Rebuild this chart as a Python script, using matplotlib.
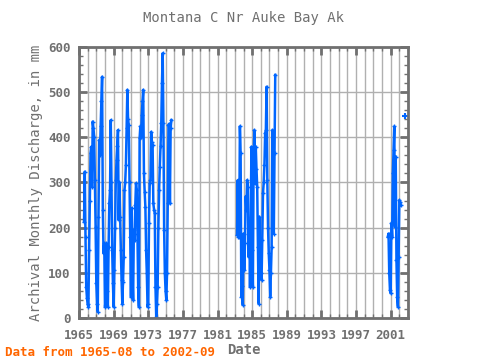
import numpy as np
import matplotlib
matplotlib.use("Agg")
import matplotlib.pyplot as plt
from matplotlib.ticker import MultipleLocator, FixedLocator

# monthly discharge (mm)
seg1_start = (1965, 8)
seg1 = [213, 324, 180, 69, 45,
        30, 25, 150, 260, 365, 379, 290, 435, 420, 401, 305, 202,
        77, 32, 14, 224, 394, 360, 424, 480, 534, 239, 143, 165,
        25, 40, 165, 60, 25, 158, 254, 283, 438, 300, 150, 77,
        25, 106, 200, 305, 350, 380, 416, 217, 300, 224, 150, 84,
        32, 80, 136, 283, 300, 339, 420, 505, 440, 427, 300, 180,
        47, 243, 99, 40, 195, 173, 250, 298, 283, 187, 69, 25,
        398, 424, 401, 450, 480, 505, 320, 280, 246, 150, 99, 25,
        32, 210, 298, 305, 412, 390, 383, 254, 240, 232, 69, 3,
        30, 69, 200, 283, 335, 380, 431, 520, 586, 431, 195, 99,
        60, 40, 99, 254, 427, 430, 254, 420, 438]

seg2_start = (1983, 4)
seg2 = [184, 305, 180, 180, 424, 365, 47, 70, 29,
        187, 106, 165, 269, 240, 305, 290, 136, 210, 69, 224, 379,
        150, 69, 350, 416, 298, 379, 330, 290, 158, 32, 224, 143,
        100, 84, 173, 276, 300, 339, 409, 416, 512, 305, 200, 143,
        106, 47, 100, 158, 416, 365, 187, 365, 538]

seg3_start = (2000, 9)
seg3 = [180, 187, 99, 62, 55, 210, 180, 320, 372, 424, 202, 357,
        128, 47, 25, 136, 261, 257, 250]

last_point = (2002, 9)
last_value = 447

year_ticks = list(range(1965, 2003, 4))


def dec_years(start, n):
    y, m = start
    return y + (m - 1 + np.arange(n)) / 12.0


grey = "#707070"
blue = "#0066ff"
mono = "DejaVu Sans Mono"

fig = plt.figure(figsize=(4.8, 3.6), dpi=100)
ax = fig.add_axes([0.1646, 0.1167, 0.6854, 0.7528])

for start, vals in [(seg1_start, seg1), (seg2_start, seg2), (seg3_start, seg3)]:
    ax.plot(dec_years(start, len(vals)), vals, color=blue, lw=1.8,
            marker="+", ms=2.5, mew=1)
ax.plot(dec_years(last_point, 1), [last_value], color=blue, lw=0,
        marker="+", ms=4, mew=1.5)

ax.set_xlim(1965, 2003)
ax.set_ylim(0, 600)
ax.xaxis.set_major_locator(FixedLocator(year_ticks))
ax.xaxis.set_minor_locator(MultipleLocator(1))
ax.yaxis.set_major_locator(MultipleLocator(100))
ax.yaxis.set_minor_locator(MultipleLocator(20))

ax.grid(True, which="major", axis="y", color="#b0b0b0", lw=1)
ax.grid(True, which="both", axis="x", color="#b0b0b0", lw=1)
ax.set_axisbelow(True)

for s in ax.spines.values():
    s.set_color(grey)
    s.set_linewidth(2)
ax.tick_params(which="both", direction="in", color=grey, top=True, right=True,
               labelcolor=grey, labelsize=9)
ax.tick_params(which="major", length=6, width=2)
ax.tick_params(which="minor", length=3, width=1)
ax.tick_params(axis="x", which="major", pad=8)
ax.tick_params(axis="y", which="major", pad=6)
for lab in ax.get_xticklabels() + ax.get_yticklabels():
    lab.set_family(mono)
    lab.set_weight("bold")

ax.set_title("Montana C Nr Auke Bay Ak", color=grey, family=mono,
             fontsize=10, pad=18)
ax.set_xlabel("Date", color=grey, family=mono, fontsize=10, labelpad=1,
              weight="bold")
ax.set_ylabel("Archival Monthly Discharge, in mm", color=grey, family=mono,
              fontsize=10)
fig.text(0.01, 0.01, "Data from 1965-08 to 2002-09", color="#ff6600",
         family=mono, fontsize=9, weight="bold")

fig.savefig("out.png", dpi=100)
